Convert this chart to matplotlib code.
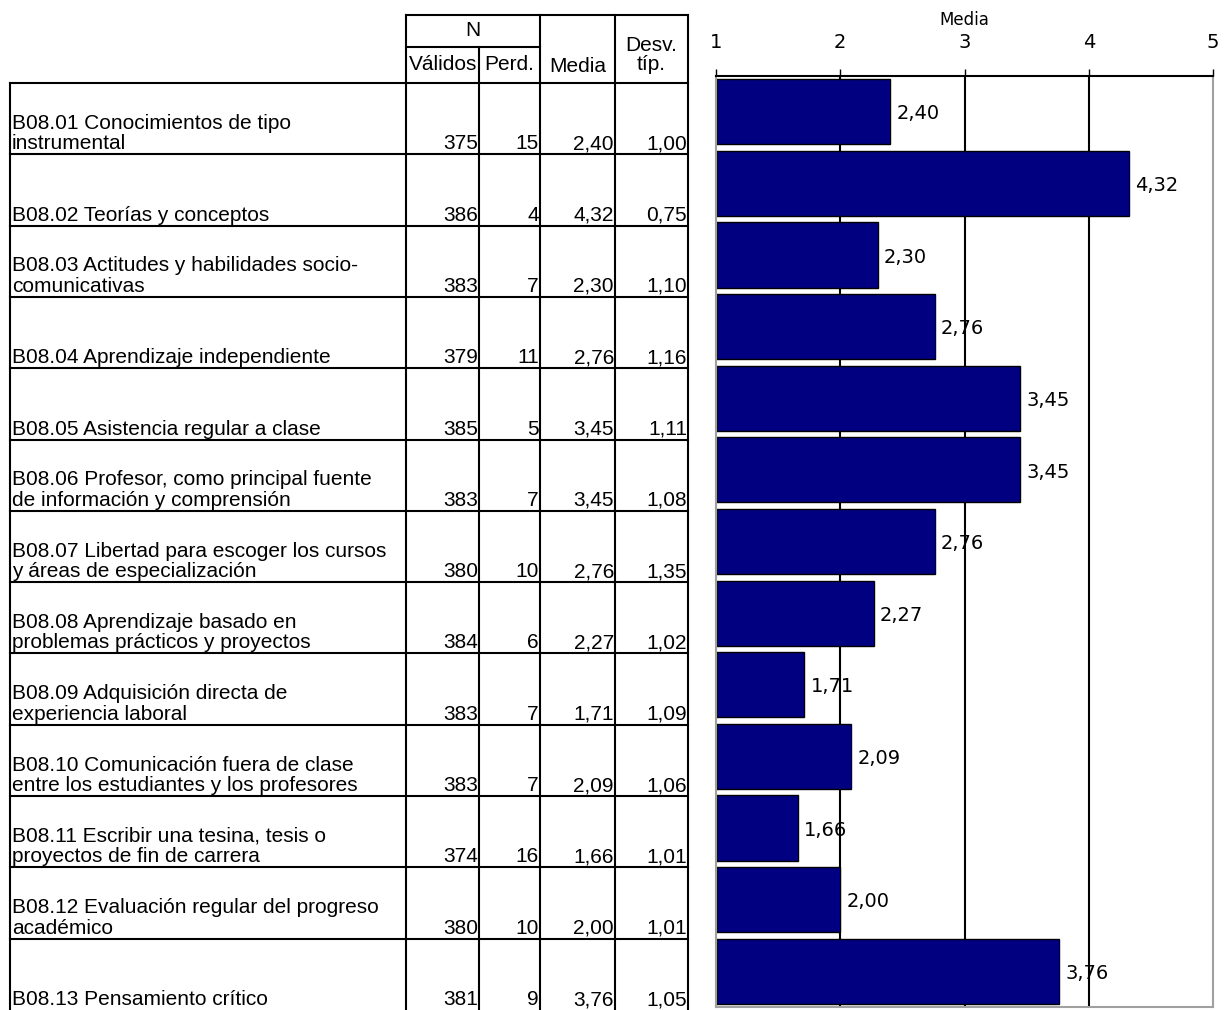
import numpy as np
import matplotlib
matplotlib.use("Agg")
import matplotlib.pyplot as plt

# data
labels = [
    "B08.01 Conocimientos de tipo\ninstrumental",
    "B08.02 Teorías y conceptos",
    "B08.03 Actitudes y habilidades socio-\ncomunicativas",
    "B08.04 Aprendizaje independiente",
    "B08.05 Asistencia regular a clase",
    "B08.06 Profesor, como principal fuente\nde información y comprensión",
    "B08.07 Libertad para escoger los cursos\ny áreas de especialización",
    "B08.08 Aprendizaje basado en\nproblemas prácticos y proyectos",
    "B08.09 Adquisición directa de\nexperiencia laboral",
    "B08.10 Comunicación fuera de clase\nentre los estudiantes y los profesores",
    "B08.11 Escribir una tesina, tesis o\nproyectos de fin de carrera",
    "B08.12 Evaluación regular del progreso\nacadémico",
    "B08.13 Pensamiento crítico",
]
validos = [375, 386, 383, 379, 385, 383, 380, 384, 383, 383, 374, 380, 381]
perdidos = [15, 4, 7, 11, 5, 7, 10, 6, 7, 7, 16, 10, 9]
media = [2.40, 4.32, 2.30, 2.76, 3.45, 3.45, 2.76, 2.27, 1.71, 2.09, 1.66, 2.00, 3.76]
desv = [1.00, 0.75, 1.10, 1.16, 1.11, 1.08, 1.35, 1.02, 1.09, 1.06, 1.01, 1.01, 1.05]
xticks = [1, 2, 3, 4, 5]


def coma(v):
    return f"{v:.2f}".replace(".", ",")


plt.rcParams["font.family"] = ["Liberation Sans", "DejaVu Sans"]
W, H = 1228, 1010
fig = plt.figure(figsize=(W / 100, H / 100), dpi=100)

# ---- table, drawn in pixel coordinates ----
tab = fig.add_axes([0, 0, 1, 1])
tab.set_xlim(0, W)
tab.set_ylim(H, 0)
tab.axis("off")

lw = 1.5
cols = [10, 406, 479, 540, 615, 688]
head_top, n_bot, head_bot = 15, 47, 83
row_h = (H - head_bot) / len(labels)

tab.plot([cols[1], cols[5]], [head_top, head_top], color="black", lw=lw)
tab.plot([cols[1], cols[3]], [n_bot, n_bot], color="black", lw=lw)
tab.plot([cols[0], cols[5]], [head_bot, head_bot], color="black", lw=lw)
tab.plot([cols[0], cols[0]], [head_bot, H], color="black", lw=lw)
for c in [cols[1], cols[3], cols[4], cols[5]]:
    tab.plot([c, c], [head_top, H], color="black", lw=lw)
tab.plot([cols[2], cols[2]], [n_bot, H], color="black", lw=lw)
for i in range(1, len(labels)):
    y = head_bot + i * row_h
    tab.plot([cols[0], cols[5]], [y, y], color="black", lw=lw)

fs = 15
tab.text((cols[1] + cols[3]) / 2, 31, "N", ha="center", va="center", fontsize=fs)
tab.text((cols[1] + cols[2]) / 2 + 1, 64, "Válidos", ha="center", va="center", fontsize=fs)
tab.text((cols[2] + cols[3]) / 2, 64, "Perd.", ha="center", va="center", fontsize=fs)
tab.text((cols[3] + cols[4]) / 2, 66, "Media", ha="center", va="center", fontsize=fs)
tab.text((cols[4] + cols[5]) / 2, 55, "Desv.\ntíp.", ha="center", va="center",
         fontsize=fs, linespacing=1.0)

for i, lab in enumerate(labels):
    yb = head_bot + (i + 1) * row_h - 1
    tab.text(cols[0] + 2, yb, lab, ha="left", va="bottom", fontsize=fs, linespacing=1.1)
    cells = [str(validos[i]), str(perdidos[i]), coma(media[i]), coma(desv[i])]
    for j, s in enumerate(cells):
        tab.text(cols[j + 2] - 1, yb, s, ha="right", va="bottom", fontsize=fs)

# ---- bar chart ----
left, right, top, bottom = 716, 1213, 76, 1007
ax = fig.add_axes([left / W, 1 - bottom / H, (right - left) / W, (bottom - top) / H])
pos = np.arange(len(media))
ax.barh(pos, np.array(media) - 1, left=1, height=0.91, color="#000080",
        edgecolor="black", linewidth=1, zorder=2)
for x in xticks[1:-1]:
    ax.axvline(x, color="black", lw=1.5, zorder=0.5)
for i, m in enumerate(media):
    ax.text(m + 0.05, i + 0.03, coma(m), va="center", ha="left", fontsize=14,
            family="DejaVu Sans", zorder=0.3)

ax.set_xlim(xticks[0], xticks[-1])
ax.set_ylim(len(media) - 0.5, -0.5)
ax.set_yticks([])
ax.xaxis.tick_top()
ax.set_xticks(xticks)
ax.set_xticklabels([str(t) for t in xticks], family="DejaVu Sans", fontsize=14)
ax.tick_params(axis="x", direction="out", length=5, width=1, pad=12)
ax.xaxis.set_label_position("top")
ax.set_xlabel("Media", family="DejaVu Sans", fontsize=12, labelpad=6)
for s in ["left", "right", "bottom"]:
    ax.spines[s].set_color("#a0a0a0")
    ax.spines[s].set_linewidth(1.5)
ax.spines["top"].set_color("black")
ax.spines["top"].set_linewidth(1.5)

fig.savefig("out.png", dpi=100)
